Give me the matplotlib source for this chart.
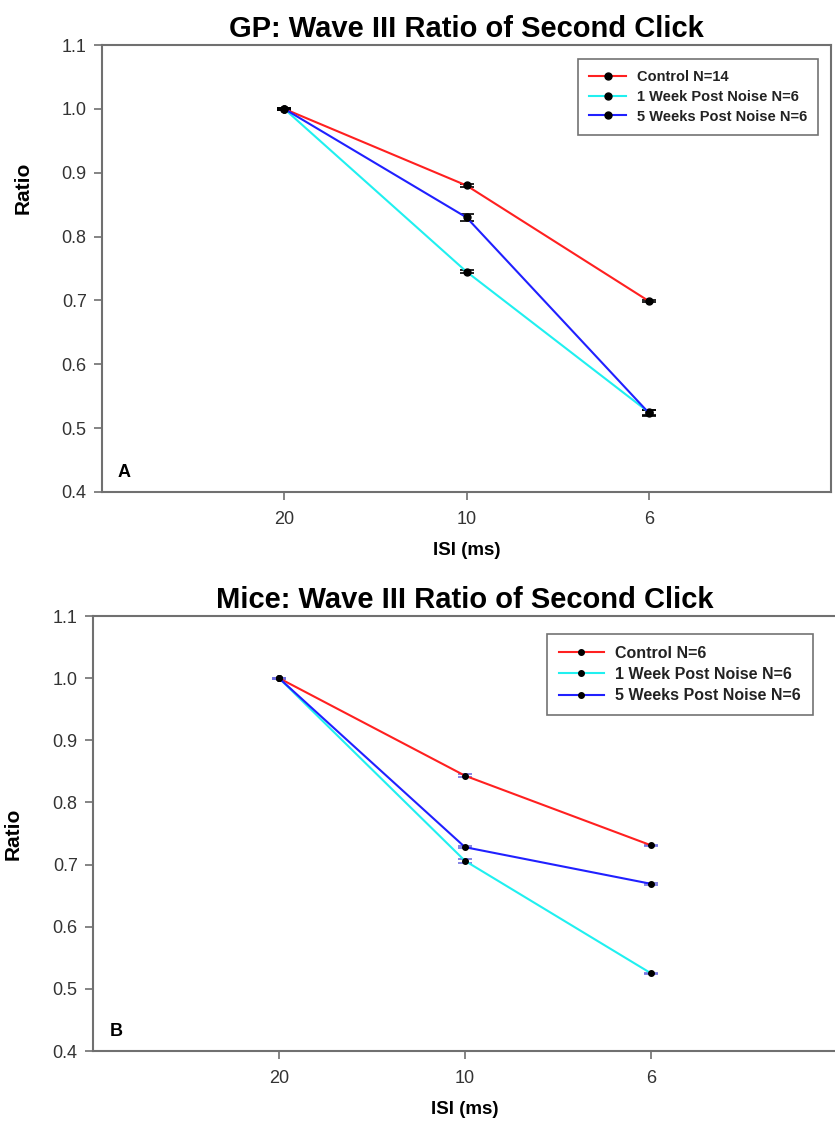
import matplotlib
matplotlib.use("Agg")
import matplotlib.pyplot as plt
from matplotlib.lines import Line2D

plt.rcParams['font.family'] = ['Liberation Sans', 'DejaVu Sans']

isi_labels = ['20', '10', '6']
series_names_gp = ['Control N=14', '1 Week Post Noise N=6', '5 Weeks Post Noise N=6']
series_names_mice = ['Control N=6', '1 Week Post Noise N=6', '5 Weeks Post Noise N=6']
colors = ['#ff2020', '#20f0f0', '#2020ff']

gp_control = [1.0, 0.880, 0.699]
gp_week1 = [1.0, 0.745, 0.525]
gp_week5 = [1.0, 0.830, 0.524]
gp_control_err = [0.002, 0.003, 0.002]
gp_week1_err = [0.002, 0.002, 0.004]
gp_week5_err = [0.002, 0.005, 0.005]

mice_control = [1.0, 0.843, 0.731]
mice_week1 = [1.0, 0.706, 0.525]
mice_week5 = [1.0, 0.728, 0.669]
mice_control_err = [0.001, 0.002, 0.001]
mice_week1_err = [0.001, 0.003, 0.001]
mice_week5_err = [0.001, 0.002, 0.002]

W, H = 835, 1121
fig = plt.figure(figsize=(W / 100, H / 100), dpi=100)

def px_axes(l, r, t, b):
    return fig.add_axes([l / W, (H - b) / H, (r - l) / W, (b - t) / H])

ax1 = px_axes(102, 831, 45, 492)
ax2 = px_axes(93, 837, 616, 1051)

xpos = [1, 2, 3]

def draw(ax, title, names, data, errs, ms, ecolor, letter, legend_bbox,
         leg_fs, hl, ylab_y):
    handles = []
    for name, vals, err, c in zip(names, data, errs, colors):
        ax.errorbar(xpos, vals, yerr=err, color=c, lw=1.5, marker='o', ms=ms,
                    mfc='black', mec='black', ecolor=ecolor, elinewidth=1.2,
                    capsize=5, capthick=1.2, zorder=3)
        handles.append(Line2D([], [], color=c, lw=1.5, marker='o', ms=ms,
                              mfc='black', mec='black', label=name))
    ax.set_xlim(0, 4)
    ax.set_ylim(0.4, 1.1)
    ax.set_xticks(xpos)
    ax.set_xticklabels(isi_labels)
    ax.set_yticks([0.4, 0.5, 0.6, 0.7, 0.8, 0.9, 1.0, 1.1])
    ax.set_yticklabels(['0.4', '0.5', '0.6', '0.7', '0.8', '0.9', '1.0', '1.1'])
    for s in ax.spines.values():
        s.set_color('#707070')
        s.set_linewidth(1.5)
    ax.tick_params(direction='out', length=6, width=1.2, color='#707070',
                   labelsize=13, labelcolor='#333333', pad=5)
    ax.tick_params(axis='x', pad=8)
    ax.set_xlabel('ISI (ms)', fontsize=13.5, fontweight='bold', labelpad=10)
    ax.set_ylabel('Ratio', fontsize=15, fontweight='bold', labelpad=22)
    ax.yaxis.set_label_coords(-0.095, ylab_y)
    ax.set_title(title, fontsize=21, fontweight='bold', pad=6)
    ax.text(0.022, 0.025, letter, transform=ax.transAxes, fontsize=13,
            fontweight='bold', ha='left', va='bottom')
    leg = ax.legend(handles=handles, loc='upper right', bbox_to_anchor=legend_bbox,
                    fontsize=leg_fs, frameon=True, fancybox=False, edgecolor='#505050',
                    handlelength=hl, handletextpad=0.7, borderpad=0.75,
                    labelspacing=0.4)
    leg.get_frame().set_linewidth(1.2)
    for t in leg.get_texts():
        t.set_fontweight('bold')
        t.set_color('#222222')

draw(ax1, 'GP: Wave III Ratio of Second Click', series_names_gp,
     [gp_control, gp_week1, gp_week5], [gp_control_err, gp_week1_err, gp_week5_err],
     5, 'black', 'A', (0.992, 0.985), 10.5, 2.6, 0.68)
draw(ax2, 'Mice: Wave III Ratio of Second Click', series_names_mice,
     [mice_control, mice_week1, mice_week5], [mice_control_err, mice_week1_err, mice_week5_err],
     4, '#7070e0', 'B', (0.978, 0.978), 11.5, 2.8, 0.5)

fig.savefig('out.png', dpi=100, facecolor='white')
